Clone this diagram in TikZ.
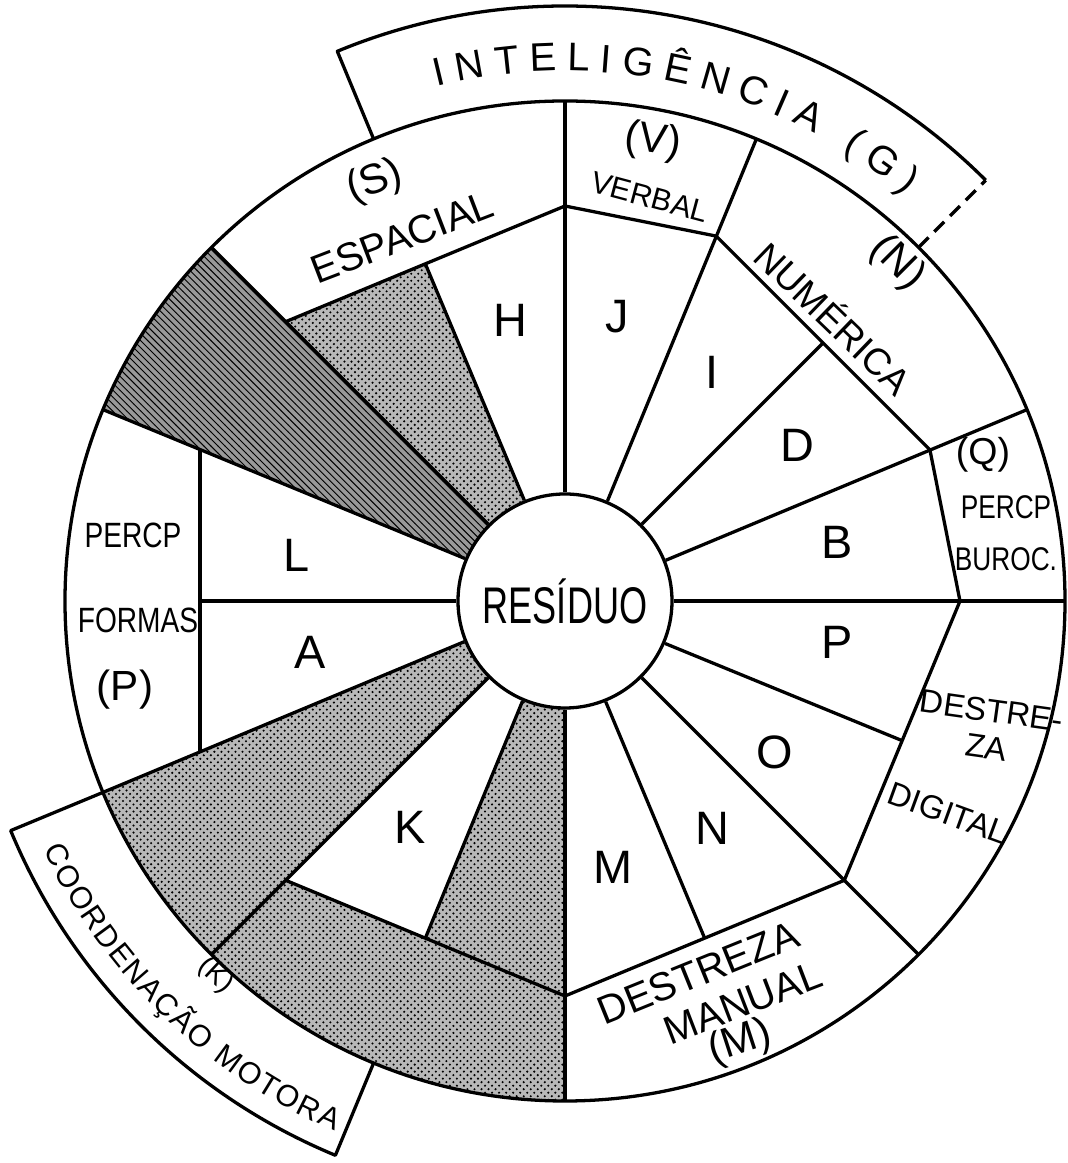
\documentclass[tikz,border=0pt]{standalone}
\usepackage{fontspec}
\setmainfont{Liberation Sans}
\usetikzlibrary{patterns, decorations.text}

\begin{document}
\begin{tikzpicture}[
            x = 0.015cm, y = 0.015cm,
            line width = 1.4pt,
            line join = round,
            dotted area/.style = {
                preaction = {fill = black!28},
                pattern = crosshatch dots
            },
            dense area/.style = {
                preaction = {fill = black!40},
                pattern = north west lines
            },
            sector letter/.style = {
                inner sep = 0pt,
                font = \fontsize{20}{22}\selectfont
            },
            ring text/.style = {
                align = center,
                inner sep = 0pt,
                font = \fontsize{16}{18}\selectfont
            },
            paren text/.style = {
                inner sep = 0pt,
                font = \fontsize{18}{20}\selectfont
            }
        ]
            \path[use as bounding box, fill = white] (-565,-562) rectangle (502,601);

            \path[dotted area] (112.5:107) -- (112.5:365) -- (135:395) -- (135:107)
                arc[start angle = 135, end angle = 112.5, radius = 107] -- cycle;
            \path[dense area] (135:107) -- (135:500)
                arc[start angle = 135, end angle = 157.5, radius = 500] -- (157.5:107)
                arc[start angle = 157.5, end angle = 135, radius = 107] -- cycle;
            \path[dotted area] (202.5:107) -- (202.5:500)
                arc[start angle = 202.5, end angle = 225, radius = 500] -- (225:107)
                arc[start angle = 225, end angle = 202.5, radius = 107] -- cycle;
            \path[dotted area] (247.5:107) -- (247.5:365) -- (225:395) -- (225:500)
                arc[start angle = 225, end angle = 270, radius = 500] -- (270:107)
                arc[start angle = 270, end angle = 247.5, radius = 107] -- cycle;

            \draw (0,0) circle[radius = 500];
            \node[draw, circle, fill = white, minimum size = 3.21cm, inner sep = 0pt,
                font = \fontsize{22}{24}\selectfont] (res) at (0,0) {\scalebox{0.7}[1]{RESÍDUO}};

            \foreach \a in {0, 22.5, 67.5, 90, 135, 157.5, 202.5, 225, 270, 315}
                \draw (res.\a) -- (\a:500);
            \foreach \a in {45, 112.5, 180, 247.5, 292.5, 337.5}
                \draw (res.\a) -- (\a:365);

            \draw (135:395) -- (90:395) -- (67.5:395) -- (22.5:395) -- (0:395)
                -- (-45:395) -- (-90:395) -- (-135:395);
            \draw (157.5:395) -- (202.5:395);

            \draw (45:595) arc[start angle = 45, end angle = 112.5, radius = 595] -- (112.5:500);
            \draw[dash pattern = on 6pt off 3.5pt] (45:500) -- (45:595);
            \draw (202.5:500) -- (202.5:600)
                arc[start angle = 202.5, end angle = 247.5, radius = 600] -- (247.5:500);

            \path[decorate, decoration = {text along path, text align = fit to path,
                text = {|\fontsize{17}{19}\selectfont|INTELIGÊNCIA (G)}}]
                (104:530) arc[start angle = 104, end angle = 50, radius = 530];
            \path[decorate, decoration = {text along path, text align = fit to path,
                text = {|\fontsize{13}{15}\selectfont|COORDENAÇÃO MOTORA}}]
                (205.5:578) arc[start angle = 205.5, end angle = 246.5, radius = 578];

            \node[sector letter] (H) at (-55,281) {H};
            \node[sector letter] (J) at (52,284) {J};
            \node[sector letter] (I) at (147,229) {I};
            \node[sector letter] (D) at (232,156) {D};
            \node[sector letter] (B) at (272,59) {B};
            \node[sector letter] (P) at (272,-41) {P};
            \node[sector letter] (O) at (210,-151) {O};
            \node[sector letter] (N) at (147,-227) {N};
            \node[sector letter] (M) at (48,-266) {M};
            \node[sector letter] (K) at (-155,-226) {K};
            \node[sector letter] (A) at (-255,-51) {A};
            \node[sector letter] (L) at (-268,46) {L};

            \node[paren text, rotate = 20] (espacialS) at (-190,419) {(S)};
            \node[ring text, font = \fontsize{17}{19}\selectfont, rotate = 21] (espacial) at (-163,364) {ESPACIAL};
            \node[paren text, rotate = -8] (verbalV) at (88,459) {(V)};
            \node[ring text, font = \fontsize{13}{15}\selectfont, rotate = -15] (verbal) at (85,404) {VERBAL};
            \node[paren text, rotate = -45] (numericaN) at (332,338) {(N)};
            \node[ring text, rotate = -44] (numerica) at (270,284) {NUMÉRICA};
            \node[paren text, font = \fontsize{16}{18}\selectfont] (burocQ) at (418,146) {(Q)};
            \node[ring text, font = \fontsize{14}{16}\selectfont] (buroc) at (441,68) {\scalebox{0.8}[1]{PERCP}\\[6pt]\scalebox{0.8}[1]{BUROC.}};
            \node[ring text, font = \fontsize{14}{16}\selectfont, rotate = -8] (digital) at (424,-128) {DESTRE-\\ZA};
            \node[ring text, font = \fontsize{14}{16}\selectfont, rotate = -20] (digitalb) at (383,-212) {DIGITAL};
            \node[ring text, font = \fontsize{17}{19}\selectfont, rotate = 22] (manual) at (133,-372) {DESTREZA};
            \node[ring text, font = \fontsize{17}{19}\selectfont, rotate = 21] (manualb) at (178,-402) {MANUAL};
            \node[paren text, rotate = 18] (manualM) at (175,-442) {(M)};
            \node[ring text, font = \fontsize{15}{17}\selectfont] (formas) at (-432,66) {\scalebox{0.8}[1]{PERCP}};
            \node[ring text, font = \fontsize{15}{17}\selectfont] (formasb) at (-427,-19) {\scalebox{0.8}[1]{FORMAS}};
            \node[paren text] (formasP) at (-440,-89) {(P)};
            \node[paren text, font = \fontsize{12}{14}\selectfont, rotate = -43] (motoraK) at (227:512) {(K)};
        \end{tikzpicture}
\end{document}
